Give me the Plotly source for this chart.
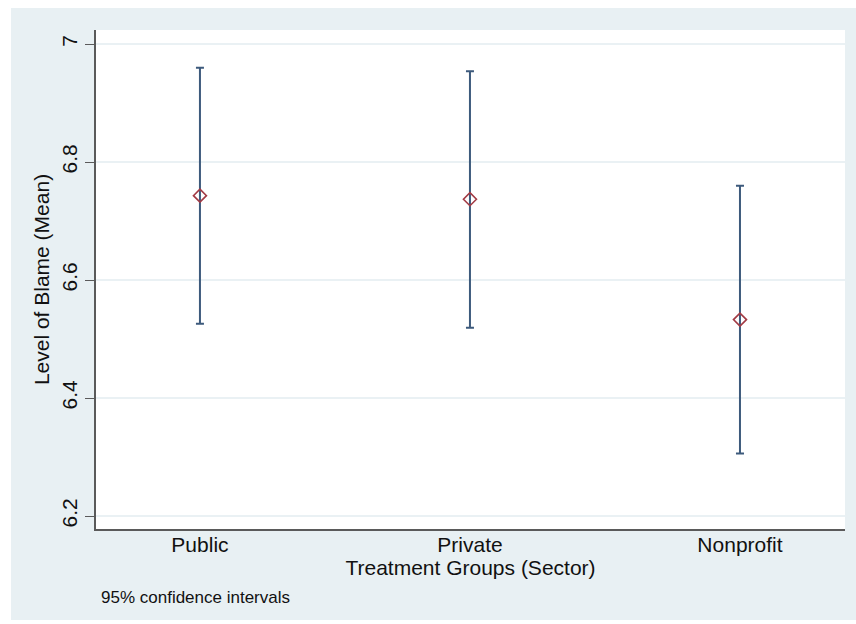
import plotly.graph_objects as go

categories = ["Public", "Private", "Nonprofit"]
means = [6.743, 6.737, 6.533]
ci_upper = [6.960, 6.954, 6.760]
ci_lower = [6.526, 6.519, 6.306]
ytick_vals = [6.2, 6.4, 6.6, 6.8, 7.0]
ytick_text = ["6.2", "6.4", "6.6", "6.8", "7"]

err_plus = [u - m for u, m in zip(ci_upper, means)]
err_minus = [m - l for m, l in zip(means, ci_lower)]

FONT = "Liberation Sans, Arial, Helvetica, sans-serif"
BG = "#e8f0f3"

fig = go.Figure()
fig.add_trace(go.Scatter(
    x=categories, y=means, mode="markers",
    marker=dict(symbol="diamond-open", size=10, color="#a23a44",
                line=dict(width=1.6, color="#a23a44")),
    error_y=dict(type="data", symmetric=False, array=err_plus, arrayminus=err_minus,
                 color="#3d5a7c", thickness=2, width=4),
    showlegend=False,
))

W, H = 856, 624
L, R, T, B = 96, 845, 30, 529
pw, ph = R - L, B - T

def px(x):
    return (x - L) / pw

def py(y):
    return (B - y) / ph

fig.update_layout(
    width=W, height=H,
    margin=dict(l=L, r=W - R, t=T, b=H - B, autoexpand=False),
    paper_bgcolor=BG, plot_bgcolor="white",
    font=dict(family=FONT, size=21, color="#111111"),
    xaxis=dict(
        type="category", range=[-0.385, 2.389],
        showgrid=False, zeroline=False,
        showline=True, linecolor="#5a5a5a", linewidth=1.5,
        ticks="", tickfont=dict(size=21), ticklabelstandoff=-4,
        title=dict(text="Treatment Groups (Sector)", font=dict(size=21), standoff=3),
    ),
    yaxis=dict(
        range=[6.178, 7.0238],
        tickvals=ytick_vals, ticktext=ytick_text, tickangle=-90,
        showgrid=True, gridcolor="#eaf1f4", gridwidth=1.5,
        zeroline=False,
        showline=True, linecolor="#5a5a5a", linewidth=1.5,
        ticks="outside", ticklen=9, tickcolor="#5a5a5a", tickwidth=1.2,
        tickfont=dict(size=21),
        title=dict(text="Level of Blame (Mean)", font=dict(size=21), standoff=2),
    ),
    shapes=[
        dict(type="rect", xref="paper", yref="paper", x0=px(0), x1=px(11), y0=py(0), y1=py(H),
             fillcolor="white", line=dict(width=0), layer="above"),
        dict(type="rect", xref="paper", yref="paper", x0=px(0), x1=px(W), y0=py(0), y1=py(8),
             fillcolor="white", line=dict(width=0), layer="above"),
        dict(type="rect", xref="paper", yref="paper", x0=px(0), x1=px(W), y0=py(620), y1=py(H),
             fillcolor="white", line=dict(width=0), layer="above"),
    ],
    annotations=[
        dict(text="95% confidence intervals", xref="paper", yref="paper",
             x=px(99), y=py(597), xanchor="left", yanchor="middle",
             showarrow=False, font=dict(size=17, color="#111111")),
    ],
)

fig.write_html("out.html")
